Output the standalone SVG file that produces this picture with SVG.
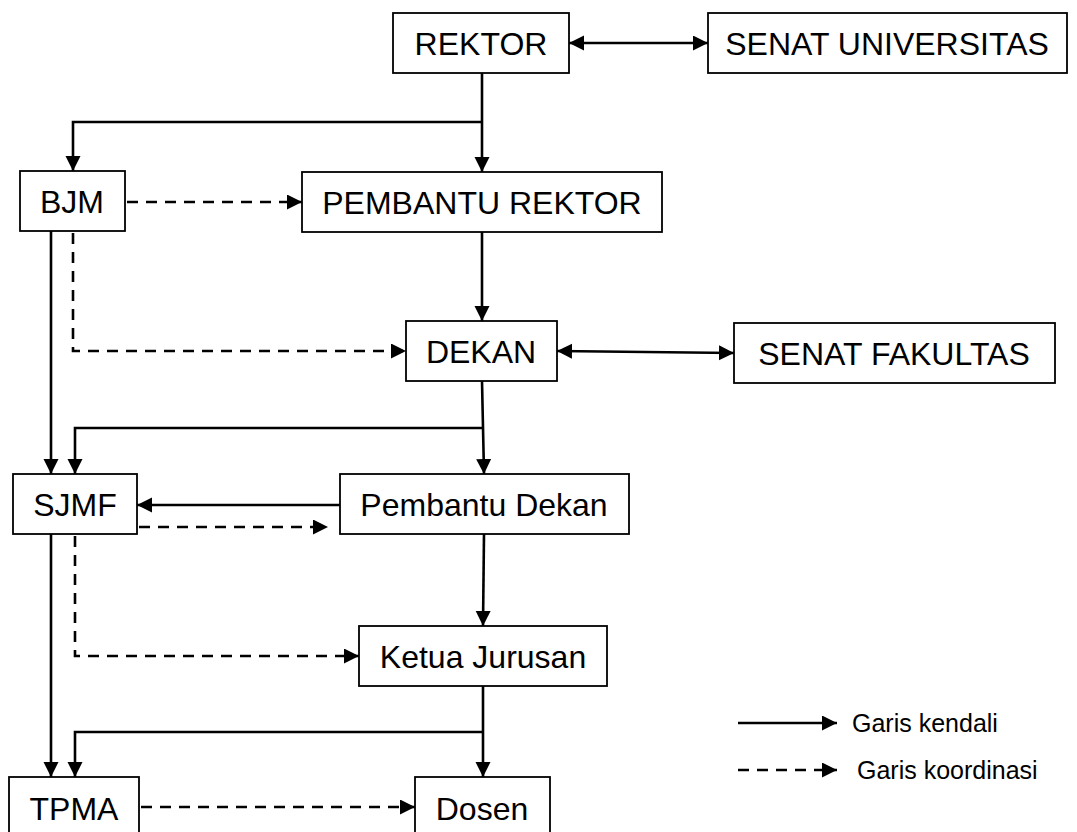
<svg xmlns="http://www.w3.org/2000/svg" width="1077" height="832" viewBox="0 0 1077 832">
<style>
.box{fill:#fff;stroke:#000;stroke-width:1.8}
.lbl{font-family:"Liberation Sans",Arial,sans-serif;font-size:32px;fill:#000;text-anchor:middle}
.leg{font-family:"Liberation Sans",Arial,sans-serif;font-size:25px;fill:#000}
.s{fill:none;stroke:#000;stroke-width:2.6}
.d{fill:none;stroke:#000;stroke-width:2.6;stroke-dasharray:11 8}
</style>
<defs>
<marker id="ah" markerUnits="userSpaceOnUse" markerWidth="16" markerHeight="16" refX="15" refY="7.5" orient="auto-start-reverse" viewBox="0 0 16 16">
<path d="M0,0 L15,7.5 L0,15 z" fill="#000"/>
</marker>
</defs>
<rect width="1077" height="832" fill="#fff"/>
<g id="connectors">
<line class="s" x1="569" y1="43" x2="708" y2="43" marker-start="url(#ah)" marker-end="url(#ah)"/>
<line class="s" x1="482" y1="73" x2="482" y2="172" marker-end="url(#ah)"/>
<polyline class="s" points="482,122 73,122 73,171" marker-end="url(#ah)"/>
<line class="s" x1="482" y1="232" x2="482" y2="321" marker-end="url(#ah)"/>
<line class="s" x1="557" y1="351" x2="734" y2="353" marker-start="url(#ah)" marker-end="url(#ah)"/>
<line class="s" x1="482" y1="381" x2="484" y2="474" marker-end="url(#ah)"/>
<polyline class="s" points="483,428 75,428 75,474" marker-end="url(#ah)"/>
<line class="s" x1="51" y1="231" x2="51" y2="474" marker-end="url(#ah)"/>
<line class="s" x1="340" y1="505" x2="137" y2="505" marker-end="url(#ah)"/>
<line class="s" x1="484" y1="534" x2="483" y2="626" marker-end="url(#ah)"/>
<line class="s" x1="483" y1="686" x2="483" y2="777" marker-end="url(#ah)"/>
<polyline class="s" points="483,732 75,732 75,777" marker-end="url(#ah)"/>
<line class="s" x1="51" y1="534" x2="51" y2="777" marker-end="url(#ah)"/>
<line class="d" x1="127" y1="202" x2="302" y2="202" marker-end="url(#ah)"/>
<polyline class="d" points="73,233 73,351 406,351" marker-end="url(#ah)"/>
<line class="d" x1="139" y1="527" x2="328" y2="527" marker-end="url(#ah)"/>
<polyline class="d" points="75,536 75,656 359,656" marker-end="url(#ah)"/>
<line class="d" x1="141" y1="807" x2="415" y2="807" marker-end="url(#ah)"/>
</g>
<g id="rektor"><rect class="box" x="393" y="13" width="176" height="60"/><text class="lbl" x="481" y="55">REKTOR</text></g>
<g id="senat-universitas"><rect class="box" x="708" y="13" width="359" height="60"/><text class="lbl" x="887" y="55">SENAT UNIVERSITAS</text></g>
<g id="bjm"><rect class="box" x="20" y="171" width="105" height="60"/><text class="lbl" x="72" y="213">BJM</text></g>
<g id="pembantu-rektor"><rect class="box" x="302" y="172" width="360" height="60"/><text class="lbl" x="482" y="214">PEMBANTU REKTOR</text></g>
<g id="dekan"><rect class="box" x="406" y="321" width="151" height="60"/><text class="lbl" x="481" y="363">DEKAN</text></g>
<g id="senat-fakultas"><rect class="box" x="734" y="323" width="321" height="60"/><text class="lbl" x="894" y="365">SENAT FAKULTAS</text></g>
<g id="sjmf"><rect class="box" x="13" y="474" width="124" height="60"/><text class="lbl" x="75" y="516">SJMF</text></g>
<g id="pembantu-dekan"><rect class="box" x="340" y="474" width="289" height="60"/><text class="lbl" x="484" y="516">Pembantu Dekan</text></g>
<g id="ketua-jurusan"><rect class="box" x="359" y="626" width="248" height="60"/><text class="lbl" x="483" y="668">Ketua Jurusan</text></g>
<g id="tpma"><rect class="box" x="9" y="777" width="130" height="70"/><text class="lbl" x="74" y="820">TPMA</text></g>
<g id="dosen"><rect class="box" x="415" y="777" width="135" height="70"/><text class="lbl" x="482" y="820">Dosen</text></g>
<g id="legend">
<line class="s" x1="738" y1="723" x2="837" y2="723" marker-end="url(#ah)"/>
<text class="leg" x="852" y="732">Garis kendali</text>
<line class="d" x1="738" y1="770" x2="837" y2="770" marker-end="url(#ah)"/>
<text class="leg" x="857" y="779">Garis koordinasi</text>
</g>
</svg>
